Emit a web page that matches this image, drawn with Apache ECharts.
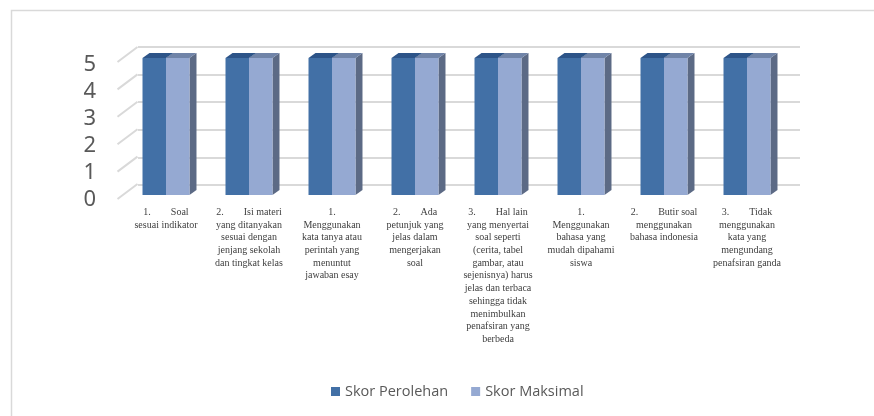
<!DOCTYPE html>
<html>
<head>
<meta charset="utf-8">
<script src="https://cdn.jsdelivr.net/npm/echarts@6/dist/echarts.min.js"></script>
<style>html,body{margin:0;padding:0;background:#fff;}#c{width:874px;height:416px;}</style>
</head>
<body>
<div id="c"></div>
<script>
const categories = [
  "1.        Soal\nsesuai indikator",
  "2.        Isi materi\nyang ditanyakan\nsesuai dengan\njenjang sekolah\ndan tingkat kelas",
  "1.\nMenggunakan\nkata tanya atau\nperintah yang\nmenuntut\njawaban esay",
  "2.        Ada\npetunjuk yang\njelas dalam\nmengerjakan\nsoal",
  "3.        Hal lain\nyang menyertai\nsoal seperti\n(cerita, tabel\ngambar, atau\nsejenisnya) harus\njelas dan terbaca\nsehingga tidak\nmenimbulkan\npenafsiran yang\nberbeda",
  "1.\nMenggunakan\nbahasa yang\nmudah dipahami\nsiswa",
  "2.        Butir soal\nmenggunakan\nbahasa indonesia",
  "3.        Tidak\nmenggunakan\nkata yang\nmengundang\npenafsiran ganda"
];
const seriesNames = ["Skor Perolehan", "Skor Maksimal"];
const skorPerolehan = [5, 5, 5, 5, 5, 5, 5, 5];
const skorMaksimal = [5, 5, 5, 5, 5, 5, 5, 5];
const yTicks = [0, 1, 2, 3, 4, 5];

const DX = 7, DY = -5;
function barRenderer(side, front, topC, sideC) {
  return function (params, api) {
    const idx = api.value(0), v = api.value(1);
    const top = api.coord([idx, v]);
    const base = api.coord([idx, 0]);
    const bw = api.size([1, 0])[0];
    const w = bw * 0.283;
    const x0 = side === 0 ? top[0] - w : top[0];
    const t = top[1], b = base[1];
    return {
      type: 'group',
      children: [
        { type: 'polygon', shape: { points: [[x0 + w, t], [x0 + w + DX, t + DY], [x0 + w + DX, b + DY], [x0 + w, b]] }, style: { fill: sideC } },
        { type: 'polygon', shape: { points: [[x0, t], [x0 + w, t], [x0 + w + DX, t + DY], [x0 + DX, t + DY]] }, style: { fill: topC } },
        { type: 'rect', shape: { x: x0, y: t, width: w, height: b - t }, style: { fill: front } }
      ]
    };
  };
}

const chart = echarts.init(document.getElementById('c'), null, { renderer: 'canvas' });
chart.setOption({
  backgroundColor: '#fff',
  animation: false,
  graphic: [{
    type: 'rect', shape: { x: 11.5, y: 10.5, width: 900, height: 500 },
    style: { fill: 'none', stroke: '#D9D9D9', lineWidth: 1.5 }, z: -10
  }],
  legend: {
    data: seriesNames,
    top: 379,
    left: 326,
    icon: 'rect',
    itemWidth: 9,
    itemHeight: 9,
    itemGap: 23,
    textStyle: { fontFamily: 'Open Sans', fontSize: 14.5, color: '#595959' }
  },
  grid: [
    { left: 124.5, right: 85.5, top: 58, bottom: 221 },
    { left: 138, right: 74, top: 47, bottom: 231 },
    { left: 124.5, right: 85.5, top: 64.5, bottom: 216.5 }
  ],
  xAxis: [
    {
      type: 'category', gridIndex: 0, data: categories,
      axisLine: { show: false }, axisTick: { show: false },
      axisLabel: { interval: 0, margin: 11, fontFamily: 'Liberation Serif', fontSize: 10, lineHeight: 12.7, color: '#404040', align: 'center' }
    },
    { type: 'value', gridIndex: 1, min: 0, max: 1, show: false },
    { type: 'value', gridIndex: 2, min: 0, max: 1, show: false }
  ],
  yAxis: [
    {
      type: 'value', gridIndex: 0, min: 0, max: 5, interval: 1,
      axisLine: { show: false }, axisTick: { show: false }, splitLine: { show: false },
      axisLabel: { show: false }
    },
    {
      type: 'value', gridIndex: 1, min: 0, max: 5, interval: 1,
      axisLine: { show: false }, axisTick: { show: false }, axisLabel: { show: false },
      splitLine: { show: true, lineStyle: { color: '#D9D9D9', width: 2 } }
    },
    {
      type: 'value', gridIndex: 2, min: 0, max: 5, interval: 1,
      axisLine: { show: false }, axisTick: { show: false }, splitLine: { show: false },
      axisLabel: { margin: 28.5, fontFamily: 'Noto Sans', fontSize: 22, color: '#595959' }
    }
  ],
  series: [
    {
      type: 'custom', name: 'wall', xAxisIndex: 0, yAxisIndex: 0, silent: true, z: 1,
      data: yTicks.map(t => [0, t]),
      renderItem: function (params, api) {
        const p = api.coord([0, api.value(1)]);
        const bw = api.size([1, 0])[0];
        const xs = p[0] - bw / 2;
        return { type: 'line', shape: { x1: xs - 7, y1: p[1] + 4, x2: xs + 13, y2: p[1] - 11 }, style: { stroke: '#D9D9D9', lineWidth: 2 } };
      }
    },
    {
      type: 'custom', name: seriesNames[0], xAxisIndex: 0, yAxisIndex: 0, z: 2,
      itemStyle: { color: '#4270A6' },
      encode: { x: 0, y: 1 },
      data: skorPerolehan.map((v, i) => [i, v]),
      renderItem: barRenderer(0, '#4270A6', '#2D5488', '#34598C')
    },
    {
      type: 'custom', name: seriesNames[1], xAxisIndex: 0, yAxisIndex: 0, z: 3,
      itemStyle: { color: '#95A9D2' },
      encode: { x: 0, y: 1 },
      data: skorMaksimal.map((v, i) => [i, v]),
      renderItem: barRenderer(1, '#95A9D2', '#7084A8', '#5C6A85')
    }
  ]
});
</script>
</body>
</html>
